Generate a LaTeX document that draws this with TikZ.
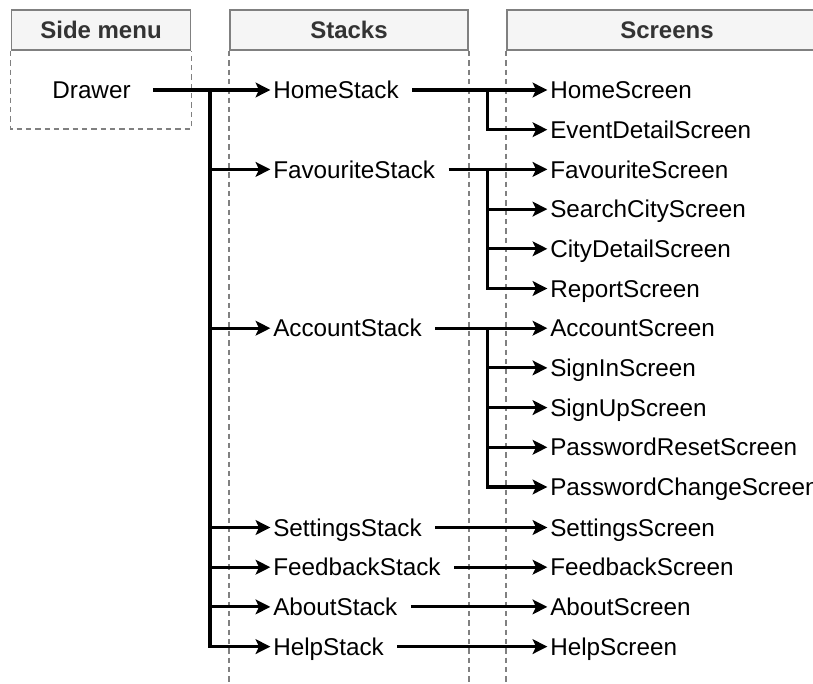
\documentclass[tikz,border=0pt]{standalone}
\usepackage{fontspec}
\setmainfont{Liberation Sans}
\usetikzlibrary{arrows.meta}
\definecolor{hdrfill}{HTML}{F5F5F5}
\definecolor{hdrline}{HTML}{808080}
\definecolor{hdrtext}{HTML}{333333}
\begin{document}
\begin{tikzpicture}[x=0.75pt,y=-0.75pt,
  lanehead/.style={draw=hdrline, fill=hdrfill, line width=1.3pt, text=hdrtext,
    font=\bfseries\fontsize{18}{21}\selectfont, minimum height=30pt, inner sep=0pt},
  laneedge/.style={draw=hdrline, line width=1.1pt, dash pattern=on 4pt off 3pt},
  item/.style={anchor=west, inner sep=0pt, text height=13pt, text depth=0pt,
    font=\fontsize{18.2}{21}\selectfont},
  link/.style={line width=2.3pt, -{Stealth[length=11pt,width=11pt,inset=2.5pt]}, shorten >=2pt},
]
\useasboundingbox (0,0) rectangle (813,684);

% column headers
\node[lanehead, minimum width=134.25pt] (hSide)    at (101,30)   {Side menu};
\node[lanehead, minimum width=178.5pt]  (hStacks)  at (349,30)   {Stacks};
\node[lanehead, minimum width=240pt]    (hScreens) at (667,30)   {Screens};

% dashed lane borders
\draw[laneedge] (hSide.south west) -- ++(0,78) -| (hSide.south east);
\draw[laneedge] (hStacks.south west) -- ++(0,650);
\draw[laneedge] (hStacks.south east) -- ++(0,650);
\draw[laneedge] (hScreens.south west) -- ++(0,650);

% side menu
\node[item, anchor=center] (drawer) at (91.5,90) {Drawer};

% stacks
\node[item] (sHome)     at (273,90)    {HomeStack};
\node[item] (sFav)      at (273,169.4) {FavouriteStack};
\node[item] (sAccount)  at (273,328.2) {AccountStack};
\node[item] (sSettings) at (273,527.5) {SettingsStack};
\node[item] (sFeedback) at (273,567.2) {FeedbackStack};
\node[item] (sAbout)    at (273,606.9) {AboutStack};
\node[item] (sHelp)     at (273,646.6) {HelpStack};

% screens
\node[item] (cHome)     at (550,90)    {HomeScreen};
\node[item] (cEvent)    at (550,129.7) {EventDetailScreen};
\node[item] (cFav)      at (550,169.4) {FavouriteScreen};
\node[item] (cSearch)   at (550,209.1) {SearchCityScreen};
\node[item] (cCity)     at (550,248.8) {CityDetailScreen};
\node[item] (cReport)   at (550,288.5) {ReportScreen};
\node[item] (cAccount)  at (550,328.2) {AccountScreen};
\node[item] (cSignIn)   at (550,367.9) {SignInScreen};
\node[item] (cSignUp)   at (550,407.6) {SignUpScreen};
\node[item] (cPwReset)  at (550,447.3) {PasswordResetScreen};
\node[item] (cPwChange) at (550,487.0) {PasswordChangeScreen};
\node[item] (cSettings) at (550,527.5) {SettingsScreen};
\node[item] (cFeedback) at (550,567.2) {FeedbackScreen};
\node[item] (cAbout)    at (550,606.9) {AboutScreen};
\node[item] (cHelp)     at (550,646.6) {HelpScreen};

% drawer -> stacks
\coordinate (jDrawer) at (210,90);
\draw[link] ([xshift=16.5pt]drawer.east) -- (sHome.west);
\foreach \s in {sFav,sAccount,sSettings,sFeedback,sAbout,sHelp}
  \draw[link] (jDrawer) |- (\s.west);

% stacks -> screens
\coordinate (jHome)    at (487.5,90);
\coordinate (jFav)     at (487.5,169.4);
\coordinate (jAccount) at (487.5,328.2);

\draw[link] ([xshift=10pt]sHome.east) -- (cHome.west);
\draw[link] (jHome) |- (cEvent.west);

\draw[link] ([xshift=10pt]sFav.east) -- (cFav.west);
\foreach \c in {cSearch,cCity,cReport}
  \draw[link] (jFav) |- (\c.west);

\draw[link] ([xshift=10pt]sAccount.east) -- (cAccount.west);
\foreach \c in {cSignIn,cSignUp,cPwReset,cPwChange}
  \draw[link] (jAccount) |- (\c.west);

\draw[link] ([xshift=10pt]sSettings.east) -- (cSettings.west);
\draw[link] ([xshift=10pt]sFeedback.east) -- (cFeedback.west);
\draw[link] ([xshift=10pt]sAbout.east) -- (cAbout.west);
\draw[link] ([xshift=10pt]sHelp.east) -- (cHelp.west);
\end{tikzpicture}
\end{document}
